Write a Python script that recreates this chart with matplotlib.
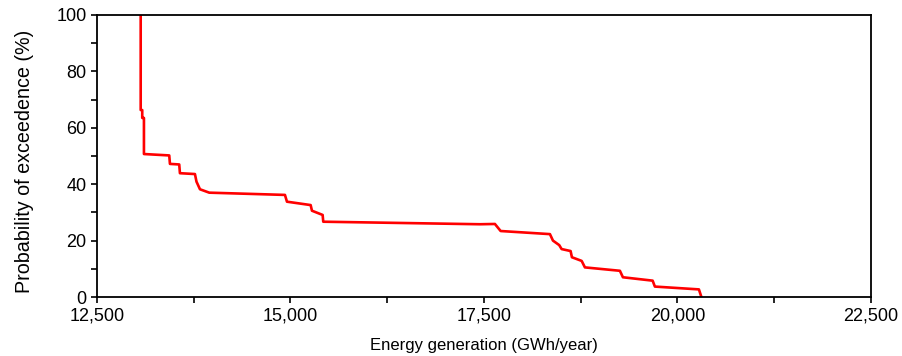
import matplotlib.pyplot as plt
from matplotlib.ticker import MultipleLocator, StrMethodFormatter

plt.rcParams['font.family'] = ['Liberation Sans', 'DejaVu Sans']

# exceedance curve: annual energy (GWh/year) vs probability of exceedence (%)
energy = [13065, 13065, 13085, 13085, 13107, 13107, 13434, 13443, 13563, 13572,
          13766, 13786, 13831, 13951, 14929, 14955, 15261, 15278, 15416, 15424,
          17449, 17642, 17716, 18353, 18392, 18473, 18504, 18620, 18637, 18763,
          18805, 19257, 19296, 19680, 19709, 20278, 20310]
probability = [100, 66.3, 66.3, 63.5, 63.5, 50.7, 50.2, 47.2, 47.0, 43.9,
               43.6, 40.9, 38.2, 37.0, 36.2, 33.8, 32.6, 30.6, 29.1, 26.7,
               25.8, 25.9, 23.4, 22.3, 20.0, 18.4, 17.0, 16.3, 14.1, 12.8,
               10.5, 9.3, 7.0, 5.8, 3.7, 2.7, 0]

fig = plt.figure(figsize=(9.02, 3.56), dpi=100)
ax = fig.add_axes([0.1075, 0.1657, 0.858, 0.7922])

ax.plot(energy, probability, color='#ff0000', linewidth=1.9)

ax.set_xlim(12500, 22500)
ax.set_ylim(0, 100)
ax.xaxis.set_major_locator(MultipleLocator(2500))
ax.xaxis.set_minor_locator(MultipleLocator(1250))
ax.yaxis.set_major_locator(MultipleLocator(20))
ax.yaxis.set_minor_locator(MultipleLocator(10))
ax.xaxis.set_major_formatter(StrMethodFormatter('{x:,.0f}'))

for side in ax.spines.values():
    side.set_linewidth(1.3)
ax.tick_params(which='both', direction='out', length=4, width=1.2,
               labelsize=13, top=False, right=False)

ax.set_xlabel("Energy generation (GWh/year)", fontsize=12, labelpad=10)
ax.set_ylabel("Probability of exceedence (%)", fontsize=14.2, labelpad=16)
ax.yaxis.label.set_y(0.48)

fig.savefig("out.png", dpi=100)
